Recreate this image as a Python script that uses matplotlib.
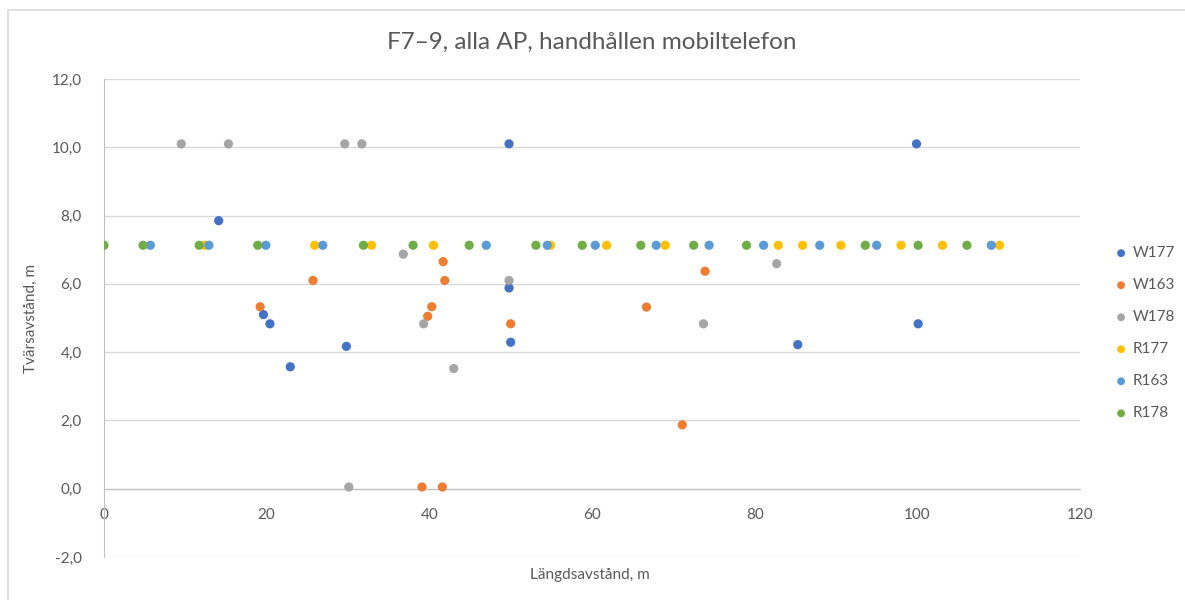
import matplotlib
matplotlib.use('Agg')
import matplotlib.pyplot as plt
from matplotlib.patches import Rectangle
from matplotlib.ticker import FuncFormatter, MultipleLocator

plt.rcParams['font.family'] = ['Lato', 'DejaVu Sans']

# Data (x = längdsavstånd, y = tvärsavstånd)
w177_x = [14.1, 19.6, 20.4, 22.9, 29.8, 49.8, 49.8, 50.0, 85.3, 99.9, 100.1]
w177_y = [7.85, 5.10, 4.83, 3.57, 4.17, 10.1, 5.88, 4.29, 4.22, 10.1, 4.83]

w163_x = [19.2, 25.7, 39.1, 39.8, 40.3, 41.6, 41.7, 41.9, 50.0, 66.7, 71.1, 73.9]
w163_y = [5.33, 6.10, 0.05, 5.05, 5.33, 0.05, 6.65, 6.10, 4.83, 5.32, 1.87, 6.37]

w178_x = [9.5, 15.3, 29.6, 31.7, 30.1, 36.8, 39.3, 43.0, 49.8, 73.7, 82.7]
w178_y = [10.1, 10.1, 10.1, 10.1, 0.05, 6.87, 4.83, 3.52, 6.10, 4.83, 6.59]

r177_x = [12.4, 25.9, 32.9, 40.5, 54.9, 61.8, 69.0, 82.9, 85.9, 90.6, 98.0, 103.1, 110.1]
r177_y = [7.13] * len(r177_x)

r163_x = [5.7, 12.9, 19.9, 26.9, 47.0, 54.5, 60.4, 67.9, 74.4, 81.1, 88.0, 95.0, 109.1]
r163_y = [7.13] * len(r163_x)

r178_x = [0.0, 4.8, 11.7, 18.9, 31.9, 38.0, 44.9, 53.1, 58.8, 66.0, 72.5, 79.0, 93.6, 100.1, 106.1]
r178_y = [7.13] * len(r178_x)

series = [
    ("W177", w177_x, w177_y, "#4472C4"),
    ("W163", w163_x, w163_y, "#ED7D31"),
    ("W178", w178_x, w178_y, "#A5A5A5"),
    ("R177", r177_x, r177_y, "#FFC000"),
    ("R163", r163_x, r163_y, "#5B9BD5"),
    ("R178", r178_x, r178_y, "#70AD47"),
]

text_col = '#595959'
grid_col = '#D9D9D9'

fig = plt.figure(figsize=(11.85, 6), dpi=100)
ax = fig.add_axes([104 / 1185, 1 - 557 / 600, 976 / 1185, 478 / 600])

# light frame round the chart area
fig.patches.append(Rectangle((8 / 1185, -0.05), 1.2, 1 - 10 / 600 + 0.05,
                             transform=fig.transFigure, fill=False,
                             edgecolor=grid_col, linewidth=1.2))

for name, xs, ys, col in series:
    ax.scatter(xs, ys, s=44, color=col, edgecolors='none', label=name, zorder=3)

ax.set_xlim(0, 120)
ax.set_ylim(-2, 12)
ax.xaxis.set_major_locator(MultipleLocator(20))
ax.yaxis.set_major_locator(MultipleLocator(2))
ax.yaxis.set_major_formatter(FuncFormatter(lambda v, p: f'{v:.1f}'.replace('.', ',')))

ax.grid(axis='y', color=grid_col, linewidth=1)
ax.set_axisbelow(True)

for spine in ['top', 'right']:
    ax.spines[spine].set_visible(False)
ax.spines['bottom'].set_position(('data', 0))
ax.spines['bottom'].set_color('#BFBFBF')
ax.spines['left'].set_color('#BFBFBF')

ax.tick_params(axis='both', length=0, labelsize=11, labelcolor=text_col)
ax.tick_params(axis='x', pad=14)
ax.tick_params(axis='y', pad=16)

ax.set_title("F7–9, alla AP, handhållen mobiltelefon", fontsize=17.5, color=text_col, pad=22)
ax.set_ylabel("Tvärsavstånd, m", fontsize=11, color=text_col, labelpad=10)
fig.text(590 / 1185, 1 - 575 / 600, "Längdsavstånd, m", fontsize=11, color=text_col,
         ha='center', va='center')

leg = ax.legend(loc='upper left', bbox_to_anchor=(1.028, 0.663), frameon=False,
                fontsize=11, labelcolor=text_col, handlelength=1.0, handletextpad=0.25,
                labelspacing=1.18, markerscale=0.85, borderaxespad=0)

fig.savefig('out.png', dpi=100)
plt.close(fig)
